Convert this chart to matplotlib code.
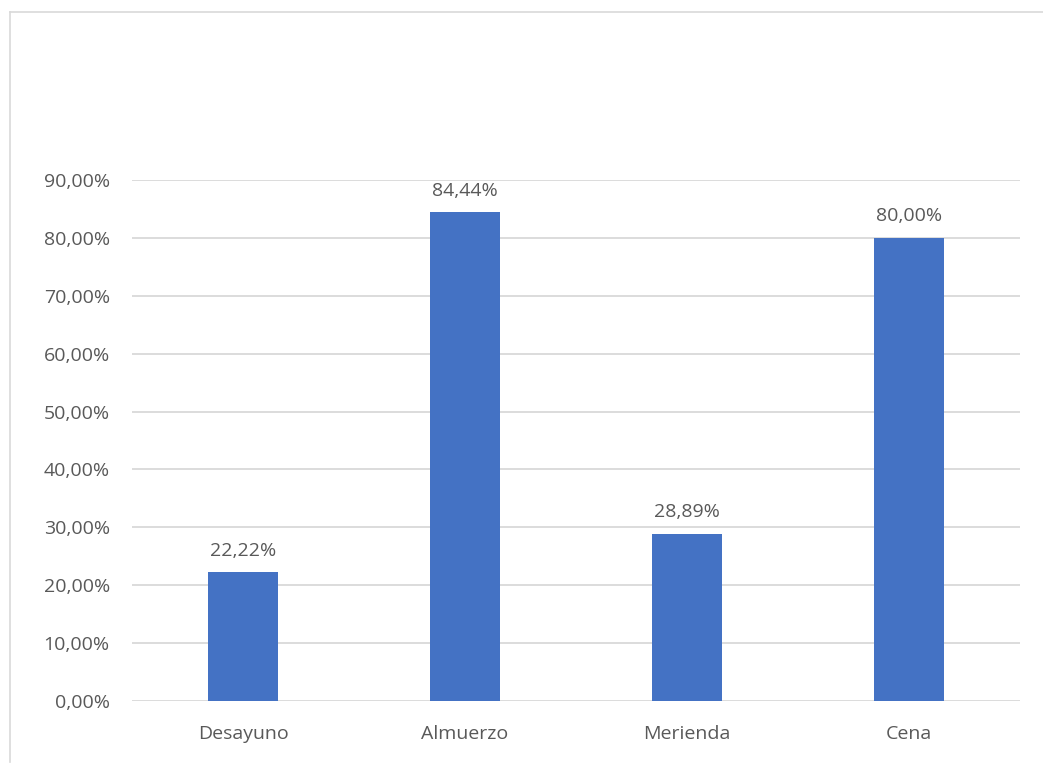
import matplotlib.pyplot as plt
from matplotlib.lines import Line2D
from matplotlib.ticker import FuncFormatter

categories = ["Desayuno", "Almuerzo", "Merienda", "Cena"]
values = [22.22, 84.44, 28.89, 80.00]
y_ticks = [0, 10, 20, 30, 40, 50, 60, 70, 80, 90]

bar_color = "#4472C4"
text_color = "#595959"
grid_color = "#D9D9D9"

plt.rcParams["font.family"] = ["Open Sans", "DejaVu Sans"]


def pct(v):
    return f"{v:.2f}%".replace(".", ",")


fig = plt.figure(figsize=(10.43, 7.71), dpi=100)
ax = fig.add_axes([132 / 1043, 1 - 701 / 771, 888 / 1043, 521 / 771])

x = range(len(categories))
bars = ax.bar(x, values, width=0.315, color=bar_color, zorder=3)

for bar, v in zip(bars, values):
    ax.annotate(pct(v), (bar.get_x() + bar.get_width() / 2, v),
                xytext=(0, 9), textcoords="offset points",
                ha="center", va="bottom", fontsize=14, color=text_color)

ax.set_xlim(-0.5, len(categories) - 0.5)
ax.set_ylim(0, 90)
ax.set_yticks(y_ticks)
ax.yaxis.set_major_formatter(FuncFormatter(lambda v, _: pct(v)))
ax.set_xticks(list(x))
ax.set_xticklabels(categories)
ax.tick_params(axis="both", length=0, labelsize=14, labelcolor=text_color)
ax.tick_params(axis="y", pad=16)
ax.tick_params(axis="x", pad=17)

ax.grid(axis="y", color=grid_color, linewidth=1.3, zorder=0)
for side in ax.spines.values():
    side.set_visible(False)

# light frame around the chart area
fig.add_artist(Line2D([10 / 1043, 10 / 1043], [1 - 12 / 771, 1 - 762 / 771],
                      color="#D9D9D9", linewidth=1.2, transform=fig.transFigure))
fig.add_artist(Line2D([10 / 1043, 1], [1 - 12 / 771, 1 - 12 / 771],
                      color="#D9D9D9", linewidth=1.2, transform=fig.transFigure))

fig.savefig("out.png", dpi=100)
